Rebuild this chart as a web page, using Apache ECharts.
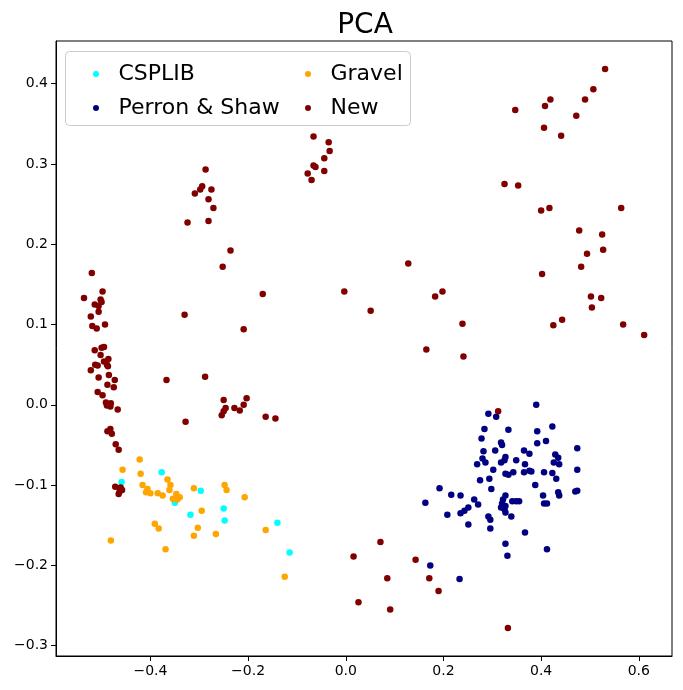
<!DOCTYPE html>
<html>
<head>
<meta charset="utf-8">
<title>PCA</title>
<script src="https://cdn.jsdelivr.net/npm/echarts@6/dist/echarts.min.js"></script>
<style>
    html, body { margin: 0; padding: 0; background: #fff; }
    #pca-chart { width: 683px; height: 690px; }
</style>
</head>
<body>
<div id="pca-chart"></div>
<script>
// 各数据集的 PCA 坐标 [PC1, PC2]
const seriesNames = ['CSPLIB', 'Perron & Shaw', 'Gravel', 'New'];
const seriesColors = ['#00ffff', '#000080', '#ffa500', '#800000'];

const csplibPoints = [
    [-0.377, -0.084], [-0.459, -0.096], [-0.297, -0.107], [-0.350, -0.122],
    [-0.318, -0.137], [-0.250, -0.129], [-0.248, -0.144], [-0.140, -0.147],
    [-0.115, -0.184]
];

const perronShawPoints = [
    [0.390, 0.000], [0.292, -0.011], [0.308, -0.015], [0.423, -0.027], [0.284, -0.030],
    [0.333, -0.031], [0.392, -0.033], [0.278, -0.042], [0.410, -0.045], [0.318, -0.047],
    [0.320, -0.050], [0.392, -0.048], [0.474, -0.054], [0.282, -0.058], [0.306, -0.057],
    [0.365, -0.057], [0.376, -0.061], [0.429, -0.062], [0.435, -0.066], [0.327, -0.065],
    [0.325, -0.069], [0.318, -0.072], [0.280, -0.067], [0.286, -0.072], [0.349, -0.069],
    [0.426, -0.072], [0.437, -0.074], [0.269, -0.074], [0.367, -0.074], [0.302, -0.081],
    [0.474, -0.081], [0.327, -0.086], [0.333, -0.087], [0.343, -0.084], [0.365, -0.084],
    [0.376, -0.082], [0.380, -0.083], [0.406, -0.084], [0.423, -0.085], [0.431, -0.092],
    [0.275, -0.094], [0.294, -0.092], [0.388, -0.100], [0.192, -0.104], [0.298, -0.105],
    [0.216, -0.112], [0.235, -0.113], [0.435, -0.109], [0.437, -0.113], [0.470, -0.108],
    [0.474, -0.107], [0.404, -0.113], [0.327, -0.113], [0.322, -0.118], [0.320, -0.123],
    [0.318, -0.128], [0.327, -0.126], [0.325, -0.130], [0.327, -0.134], [0.341, -0.120],
    [0.349, -0.120], [0.355, -0.120], [0.263, -0.118], [0.271, -0.124], [0.406, -0.123],
    [0.412, -0.123], [0.163, -0.122], [0.251, -0.128], [0.243, -0.132], [0.235, -0.135],
    [0.208, -0.137], [0.292, -0.139], [0.296, -0.143], [0.339, -0.139], [0.251, -0.149],
    [0.296, -0.154], [0.367, -0.159], [0.327, -0.173], [0.331, -0.188], [0.412, -0.180],
    [0.173, -0.200], [0.233, -0.217]
];

const gravelPoints = [
    [-0.422, -0.068], [-0.457, -0.081], [-0.420, -0.086], [-0.365, -0.093], [-0.416, -0.100],
    [-0.359, -0.100], [-0.406, -0.105], [-0.409, -0.109], [-0.400, -0.110], [-0.361, -0.106],
    [-0.385, -0.110], [-0.375, -0.113], [-0.347, -0.111], [-0.354, -0.117], [-0.340, -0.115],
    [-0.345, -0.118], [-0.311, -0.104], [-0.248, -0.100], [-0.244, -0.106], [-0.207, -0.115],
    [-0.295, -0.132], [-0.391, -0.148], [-0.383, -0.154], [-0.303, -0.153], [-0.311, -0.163],
    [-0.266, -0.161], [-0.164, -0.156], [-0.481, -0.169], [-0.369, -0.180], [-0.125, -0.214]
];

const newPoints = [
    // 左侧竖列
    [-0.520, 0.164], [-0.498, 0.141], [-0.536, 0.133], [-0.502, 0.131], [-0.514, 0.125],
    [-0.500, 0.128], [-0.506, 0.123], [-0.506, 0.116], [-0.522, 0.110], [-0.493, 0.100],
    [-0.519, 0.098], [-0.510, 0.095], [-0.514, 0.068], [-0.500, 0.071], [-0.495, 0.072],
    [-0.502, 0.062], [-0.513, 0.050], [-0.508, 0.049], [-0.495, 0.054], [-0.486, 0.057],
    [-0.489, 0.050], [-0.487, 0.048], [-0.522, 0.043], [-0.506, 0.034], [-0.485, 0.037],
    [-0.473, 0.031], [-0.488, 0.025], [-0.475, 0.022], [-0.508, 0.016], [-0.498, 0.012],
    [-0.491, 0.003], [-0.481, 0.002], [-0.489, -0.001], [-0.482, -0.002], [-0.467, -0.006],
    [-0.488, -0.033], [-0.482, -0.030], [-0.479, -0.036], [-0.471, -0.049], [-0.465, -0.056],
    [-0.472, -0.102], [-0.461, -0.103], [-0.458, -0.106], [-0.465, -0.111], [-0.463, -0.108],
    // 左中部
    [-0.330, 0.112], [-0.367, 0.031], [-0.288, 0.035], [-0.328, -0.021], [-0.287, 0.293],
    [-0.294, 0.272], [-0.298, 0.268], [-0.275, 0.268], [-0.309, 0.263], [-0.281, 0.256],
    [-0.271, 0.245], [-0.324, 0.227], [-0.281, 0.229], [-0.236, 0.192], [-0.252, 0.172],
    [-0.170, 0.138], [-0.209, 0.094], [-0.250, 0.006], [-0.203, 0.008], [-0.209, 0.000],
    [-0.246, -0.004], [-0.250, -0.008], [-0.254, -0.013], [-0.228, -0.004], [-0.217, -0.007],
    [-0.164, -0.015], [-0.144, -0.017],
    // 顶部中间
    [-0.066, 0.334], [-0.035, 0.327], [-0.033, 0.316], [-0.044, 0.307], [-0.066, 0.298],
    [-0.062, 0.296], [-0.078, 0.288], [-0.044, 0.291], [-0.070, 0.280],
    // 中部
    [-0.003, 0.141], [0.051, 0.117], [0.128, 0.176], [0.198, 0.141], [0.183, 0.135],
    [0.239, 0.101], [0.165, 0.069], [0.241, 0.060],
    // 右上
    [0.531, 0.418], [0.507, 0.393], [0.490, 0.380], [0.419, 0.380], [0.408, 0.372],
    [0.347, 0.367], [0.472, 0.360], [0.406, 0.345], [0.441, 0.335], [0.325, 0.275],
    [0.353, 0.273], [0.400, 0.242], [0.417, 0.245], [0.564, 0.245], [0.478, 0.217],
    [0.525, 0.212], [0.494, 0.188], [0.527, 0.193], [0.482, 0.172], [0.402, 0.163],
    [0.502, 0.135], [0.523, 0.133], [0.504, 0.121], [0.443, 0.106], [0.425, 0.099],
    [0.568, 0.100], [0.611, 0.087],
    // 下方
    [0.312, -0.008], [0.071, -0.171], [0.016, -0.189], [0.143, -0.193], [0.085, -0.216],
    [0.171, -0.216], [0.190, -0.232], [0.026, -0.246], [0.091, -0.255], [0.332, -0.278]
];

// 坐标轴范围与刻度
const xRange = [-0.5933, 0.668];
const yRange = [-0.3128, 0.453];
const xTicks = [-0.4, -0.2, 0.0, 0.2, 0.4, 0.6];
const yTicks = [-0.3, -0.2, -0.1, 0.0, 0.1, 0.2, 0.3, 0.4];

const FONT = 'DejaVu Sans';

// 负号使用 U+2212，和 matplotlib 一致
function fmtTick(v) {
    return v.toFixed(1).replace('-', '\u2212');
}

function initChart() {
    const chart = echarts.init(document.getElementById('pca-chart'), null, { renderer: 'canvas' });
    const allPoints = [csplibPoints, perronShawPoints, gravelPoints, newPoints];

    const axisCommon = {
        type: 'value',
        scale: true,
        splitLine: { show: false },
        axisLine: { show: true, onZero: false, lineStyle: { color: '#000', width: 1 } },
        axisTick: { show: true, inside: false, length: 5, lineStyle: { color: '#000', width: 1 } },
        axisLabel: { color: '#000', fontFamily: FONT, fontSize: 14, formatter: fmtTick }
    };

    const legendText = { fontFamily: FONT, fontSize: 22, lineHeight: 24, color: '#000' };

    const option = {
        animation: false,
        backgroundColor: '#fff',
        title: {
            text: 'PCA',
            left: 360,
            top: 7,
            textAlign: 'center',
            textStyle: { fontFamily: FONT, fontSize: 28, fontWeight: 'normal', color: '#000' }
        },
        grid: {
            left: 56, right: 11, top: 41, bottom: 34,
            show: true, borderColor: '#000', borderWidth: 1, backgroundColor: 'transparent'
        },
        // 图例外框（两列图例共用）
        graphic: [{
            type: 'rect',
            z: 90,
            shape: { x: 65.5, y: 51.5, width: 345, height: 74, r: 4 },
            style: { fill: 'rgba(255,255,255,0.8)', stroke: '#cccccc', lineWidth: 1 }
        }],
        legend: [
            {
                data: seriesNames.slice(0, 2),
                orient: 'vertical',
                left: 88, top: 57,
                icon: 'circle',
                itemWidth: 35, itemHeight: 6, itemGap: 10,
                z: 100,
                selectedMode: false,
                textStyle: legendText
            },
            {
                data: seriesNames.slice(2, 4),
                orient: 'vertical',
                left: 300, top: 57,
                icon: 'circle',
                itemWidth: 35, itemHeight: 6, itemGap: 10,
                z: 100,
                selectedMode: false,
                textStyle: legendText
            }
        ],
        xAxis: Object.assign({}, axisCommon, {
            min: xRange[0], max: xRange[1],
            axisLabel: Object.assign({}, axisCommon.axisLabel, { margin: 8, customValues: xTicks }),
            axisTick: Object.assign({}, axisCommon.axisTick, { customValues: xTicks })
        }),
        yAxis: Object.assign({}, axisCommon, {
            min: yRange[0], max: yRange[1],
            axisLabel: Object.assign({}, axisCommon.axisLabel, { margin: 8, customValues: yTicks }),
            axisTick: Object.assign({}, axisCommon.axisTick, { customValues: yTicks })
        }),
        series: seriesNames.map((name, i) => ({
            name: name,
            type: 'scatter',
            data: allPoints[i],
            symbol: 'circle',
            symbolSize: 6.5,
            itemStyle: { color: seriesColors[i], opacity: 1 },
            emphasis: { disabled: true }
        }))
    };

    chart.setOption(option);
}

document.addEventListener('DOMContentLoaded', initChart);
</script>
</body>
</html>
